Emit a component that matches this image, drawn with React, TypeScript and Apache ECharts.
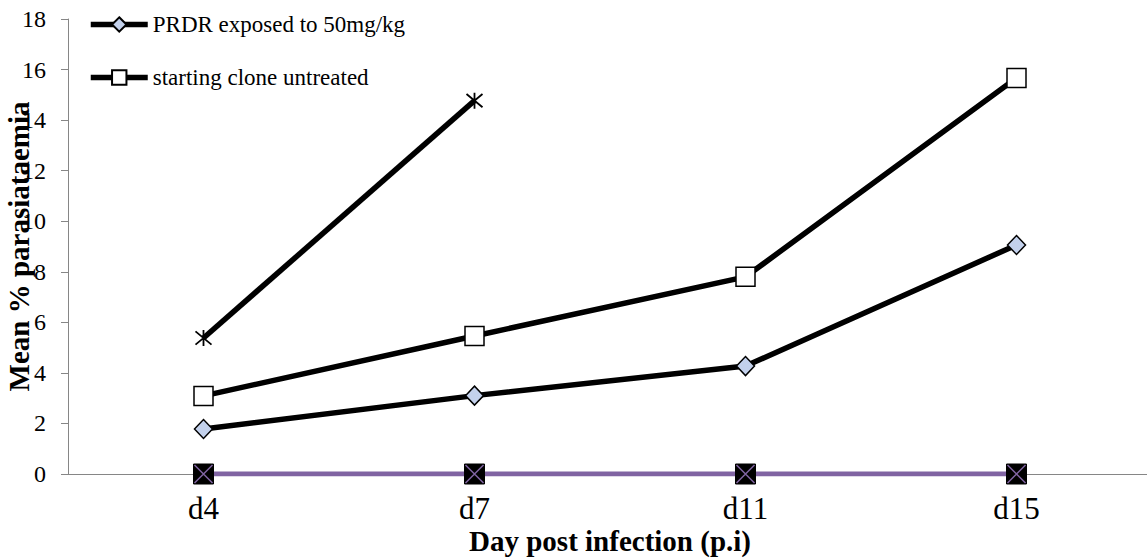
import React, { useEffect, useRef } from "react";
import * as echarts from "echarts";

const categories = ["d4", "d7", "d11", "d15"];
const prdrExposed = [1.78, 3.1, 4.27, 9.06];
const startingClone = [3.09, 5.46, 7.8, 15.67];
const starSeries: (number | string)[] = [5.38, 14.77, "-", "-"];
const zeroSeries = [0, 0, 0, 0];
const yTicks = { min: 0, max: 18, interval: 2 };

const FONT = "Liberation Serif";
const BLACK = "#000000";
const PURPLE = "#8064a2";
const AXIS_GRAY = "#868686";

export default function App() {
  const ref = useRef<HTMLDivElement>(null);
  useEffect(() => {
    if (!ref.current) return;
    const chart = echarts.init(ref.current, undefined, { renderer: "svg" });
    chart.setOption({
      animation: false,
      backgroundColor: "#ffffff",
      textStyle: { fontFamily: FONT, color: BLACK },
      grid: {
        left: 68,
        top: 19,
        bottom: 86,
        right: -5,
        containLabel: false,
        outerBoundsMode: "none",
      },
      legend: {
        orient: "vertical",
        left: 88,
        top: 13,
        padding: 0,
        itemWidth: 57,
        itemHeight: 18,
        itemGap: 30,
        lineStyle: { width: 5.5 },
        textStyle: { fontFamily: FONT, fontSize: 23, color: BLACK },
        data: ["PRDR exposed to 50mg/kg", "starting clone untreated"],
      },
      xAxis: {
        type: "category",
        data: categories,
        boundaryGap: true,
        axisLine: { lineStyle: { color: AXIS_GRAY, width: 1 } },
        axisTick: { show: false },
        axisLabel: { fontFamily: FONT, fontSize: 31, color: BLACK, margin: 19 },
        name: "Day post infection (p.i)",
        nameLocation: "middle",
        nameGap: 52,
        nameMoveOverlap: false,
        nameTextStyle: { fontFamily: FONT, fontSize: 29, fontWeight: "bold", color: BLACK },
        splitLine: { show: false },
      },
      yAxis: {
        type: "value",
        min: yTicks.min,
        max: yTicks.max,
        interval: yTicks.interval,
        axisLine: { show: true, lineStyle: { color: AXIS_GRAY, width: 1 } },
        axisTick: { show: true, length: 7, lineStyle: { color: AXIS_GRAY } },
        axisLabel: { fontFamily: FONT, fontSize: 24, color: BLACK, margin: 22 },
        splitLine: { show: false },
        name: "Mean % parasiataemia",
        nameLocation: "middle",
        nameGap: 38,
        nameRotate: 90,
        nameMoveOverlap: false,
        nameTextStyle: {
          fontFamily: FONT,
          fontSize: 29,
          fontWeight: "bold",
          color: BLACK,
          backgroundColor: "#ffffff",
          lineHeight: 22,
        },
      },
      series: [
        {
          name: "PRDR exposed to 50mg/kg",
          type: "line",
          data: prdrExposed,
          symbol: "diamond",
          symbolSize: [18, 19],
          lineStyle: { color: BLACK, width: 5.5 },
          itemStyle: { color: "#c3d1ec", borderColor: BLACK, borderWidth: 1.5 },
          z: 3,
        },
        {
          name: "starting clone untreated",
          type: "line",
          data: startingClone,
          symbol: "rect",
          symbolSize: 19,
          lineStyle: { color: BLACK, width: 5.5 },
          itemStyle: { color: "#ffffff", borderColor: BLACK, borderWidth: 1.5 },
          z: 3,
        },
        {
          name: "star",
          type: "line",
          data: starSeries,
          symbol: "path://M0,0L10,10M10,0L0,10M5,-1L5,11",
          symbolSize: 16,
          lineStyle: { color: BLACK, width: 5.5 },
          itemStyle: { color: "none", borderColor: BLACK, borderWidth: 1.8 },
          z: 3,
        },
        {
          name: "zeroA",
          type: "line",
          data: zeroSeries,
          symbol: "rect",
          symbolSize: 20,
          lineStyle: { color: PURPLE, width: 5 },
          itemStyle: { color: BLACK, borderColor: BLACK, borderWidth: 1 },
          z: 4,
        },
        {
          name: "zeroB",
          type: "line",
          data: zeroSeries,
          symbol: "path://M0,0L10,10M10,0L0,10",
          symbolSize: 18,
          lineStyle: { width: 0, opacity: 0 },
          itemStyle: { color: "none", borderColor: PURPLE, borderWidth: 1.5 },
          z: 5,
        },
      ],
    });
    return () => chart.dispose();
  }, []);
  return (
    <div
      ref={ref}
      style={{ position: "fixed", left: 0, top: 0, width: 1147, height: 560, background: "#fff" }}
    />
  );
}
